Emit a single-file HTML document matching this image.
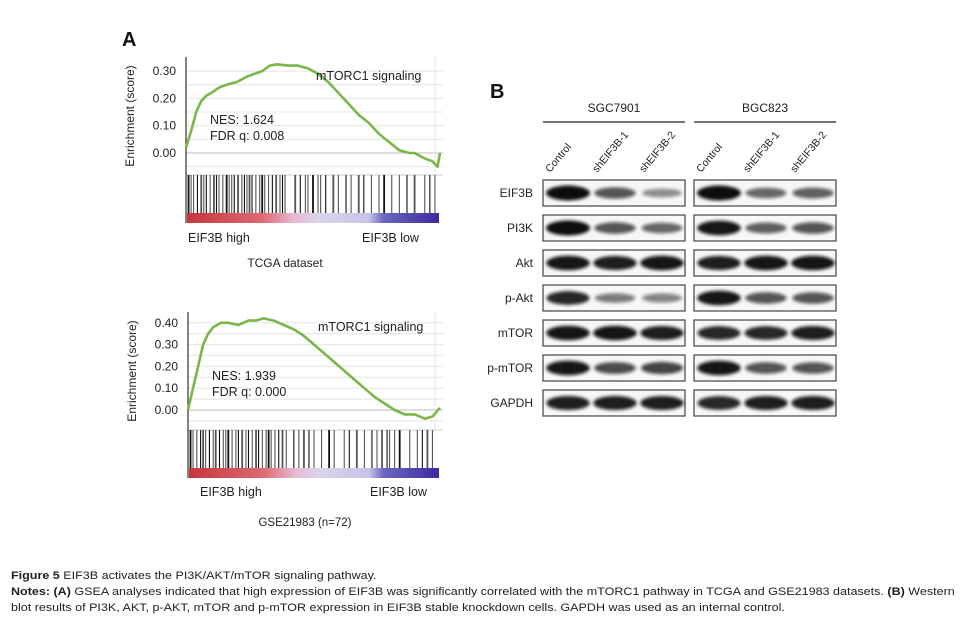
<!DOCTYPE html>
<html><head><meta charset="utf-8">
<style>
body{margin:0;background:#fff;font-family:"Liberation Sans",Arial,sans-serif;}
#wrap{position:relative;width:975px;height:632px;overflow:hidden;}
.cap{position:absolute;left:11px;font-size:11px;color:#222;white-space:nowrap;transform-origin:0 0;transform:scaleX(1.14);}
</style></head>
<body>
<div id="wrap">
<svg id="fig" width="975" height="632" style="position:absolute;left:0;top:0" font-family="Liberation Sans, Arial, sans-serif">
<defs>
<linearGradient id="rank" x1="0" x2="1" y1="0" y2="0">
<stop offset="0" stop-color="#c8363c"/><stop offset="0.3" stop-color="#dc6a74"/>
<stop offset="0.42" stop-color="#e8b8d0"/><stop offset="0.52" stop-color="#d8d4ec"/>
<stop offset="0.72" stop-color="#c6c4e6"/><stop offset="0.78" stop-color="#6a66c0"/>
<stop offset="1" stop-color="#3a2aa0"/></linearGradient>
<filter id="blur" x="-20%" y="-80%" width="140%" height="260%"><feGaussianBlur stdDeviation="1.6"/></filter>
</defs>
</svg>
<div class="cap" style="top:570px"><b>Figure 5</b> EIF3B activates the PI3K/AKT/mTOR signaling pathway.</div>
<div class="cap" style="top:586px"><b>Notes: (A)</b> GSEA analyses indicated that high expression of EIF3B was significantly correlated with the mTORC1 pathway in TCGA and GSE21983 datasets. <b>(B)</b> Western</div>
<div class="cap" style="top:602px">blot results of PI3K, AKT, p-AKT, mTOR and p-mTOR expression in EIF3B stable knockdown cells. GAPDH was used as an internal control.</div>
</div>
<script>
// ---- data ----
const tcgaRank=[0,0.02,0.04,0.06,0.08,0.1,0.13,0.16,0.2,0.24,0.27,0.3,0.33,0.36,0.4,0.44,0.48,0.52,0.56,0.6,0.64,0.68,0.72,0.76,0.8,0.84,0.88,0.9,0.94,0.97,0.99,1.0];
const tcgaES=[0.02,0.08,0.15,0.19,0.21,0.22,0.24,0.25,0.26,0.28,0.29,0.30,0.32,0.325,0.32,0.32,0.31,0.29,0.26,0.22,0.18,0.14,0.11,0.07,0.04,0.01,0.0,0.0,-0.02,-0.03,-0.05,0.0];
const gseRank=[0,0.02,0.04,0.06,0.08,0.1,0.13,0.16,0.2,0.24,0.27,0.3,0.34,0.38,0.42,0.46,0.5,0.54,0.58,0.62,0.66,0.7,0.74,0.78,0.82,0.86,0.9,0.94,0.97,1.0];
const gseES=[0.0,0.1,0.2,0.3,0.35,0.38,0.4,0.4,0.39,0.41,0.41,0.42,0.41,0.39,0.37,0.34,0.30,0.26,0.22,0.18,0.14,0.10,0.06,0.03,0.0,-0.02,-0.02,-0.04,-0.03,0.01];
const hitsA=[0.01,0.02,0.03,0.045,0.06,0.07,0.08,0.095,0.11,0.12,0.13,0.145,0.16,0.17,0.18,0.19,0.205,0.22,0.23,0.24,0.25,0.26,0.275,0.29,0.3,0.31,0.325,0.34,0.355,0.37,0.38,0.39,0.43,0.45,0.47,0.48,0.5,0.52,0.53,0.55,0.58,0.6,0.63,0.65,0.68,0.7,0.73,0.76,0.78,0.81,0.84,0.87,0.9,0.94,0.96,0.98];
const hitsB=[0.01,0.02,0.035,0.05,0.06,0.07,0.085,0.1,0.11,0.125,0.14,0.15,0.16,0.175,0.19,0.2,0.215,0.23,0.24,0.255,0.27,0.28,0.295,0.31,0.32,0.33,0.345,0.36,0.375,0.39,0.42,0.44,0.46,0.48,0.5,0.53,0.56,0.58,0.62,0.64,0.67,0.7,0.73,0.75,0.77,0.79,0.8,0.82,0.84,0.88,0.91,0.93,0.95,0.97];
const proteins=["EIF3B","PI3K","Akt","p-Akt","mTOR","p-mTOR","GAPDH"];
const lanes=["Control","shEIF3B-1","shEIF3B-2"];
const bandSGC=[[1.0,0.6,0.3],[1.0,0.6,0.5],[0.95,0.9,0.95],[0.85,0.4,0.35],[0.95,0.95,0.9],[0.95,0.65,0.7],[0.9,0.9,0.9]];
const bandBGC=[[1.0,0.5,0.55],[0.95,0.55,0.6],[0.9,0.95,0.95],[0.95,0.6,0.6],[0.85,0.85,0.9],[0.95,0.6,0.6],[0.85,0.9,0.9]];

const svg=document.getElementById('fig');const NS='http://www.w3.org/2000/svg';
function el(tag,attrs,parent){const e=document.createElementNS(NS,tag);for(const k in attrs)e.setAttribute(k,attrs[k]);(parent||svg).appendChild(e);return e;}
function txt(x,y,s,size,anchor,name,parent,extra){const t=el('text',Object.assign({x:x,y:y,'font-size':size,'text-anchor':anchor||'start',fill:'#222'},extra||{}),parent);t.textContent=s;


return t;}

txt(122,46,'A',20,'start','panel-a-label',null,{'font-weight':'bold',fill:'#111'});
txt(490,98,'B',20,'start','panel-b-label',null,{'font-weight':'bold',fill:'#111'});

function gsea(cfg){
  const g=el('g',{});
  
  
  const xS=f=>cfg.x0+f*(cfg.x1-cfg.x0);
  const yS=v=>cfg.y0-v/0.1*cfg.step;
  for(let v=cfg.min;v<=cfg.max+1e-9;v+=0.05){
    const gl=el('line',{x1:cfg.x0,x2:cfg.x1+3,y1:yS(v),y2:yS(v),stroke:Math.abs(v)<1e-6?'#bbb':'#e4e4e4','stroke-width':1},g);
    
    
  }
  const vl=el('line',{x1:cfg.x1-5,x2:cfg.x1-5,y1:cfg.top,y2:cfg.barTop,stroke:'#e4e4e4'},g);
  
  
  for(let v=0;v<=cfg.max+1e-9;v+=0.1){
    txt(cfg.x0-10,yS(v)+4,v.toFixed(2),12,'end','y-tick-label',g);
  }
  const yt=txt(0,0,'Enrichment (score)',12,'middle','y-axis-title',g);
  yt.setAttribute('transform',`translate(${cfg.x0-52},${(cfg.top+cfg.barTop)/2}) rotate(-90)`);
  const bc=el('line',{x1:cfg.x0,x2:cfg.x1+3,y1:cfg.barTop,y2:cfg.barTop,stroke:'#ccc'},g);
  
  
  cfg.hits.forEach((h,i)=>{
    const ln=el('line',{x1:xS(h),x2:xS(h),y1:cfg.barTop,y2:cfg.colTop,stroke:i%3==0?'#111':'#555','stroke-width':i%4==0?1.8:1.1},g);
    
    
  });
  const rb=el('rect',{x:cfg.x0+1,y:cfg.colTop,width:cfg.x1-cfg.x0-2,height:cfg.colH,fill:'url(#rank)'},g);
  
  
  const ax=el('line',{x1:cfg.x0,x2:cfg.x0,y1:cfg.top,y2:cfg.colTop+cfg.colH,stroke:'#333','stroke-width':1.2},g);
  
  
  const pts=cfg.rank.map((r,i)=>xS(r).toFixed(1)+','+yS(cfg.es[i]).toFixed(1)).join(' ');
  const pl=el('polyline',{points:pts,fill:'none',stroke:'#7ab648','stroke-width':2.6,'stroke-linejoin':'round'},g);
  
  
  txt(cfg.x0+130,cfg.titleY,'mTORC1  signaling',12.5,'start','gene-set-title',g);
  txt(cfg.x0+24,cfg.nesY,cfg.nes,12.5,'start','nes-value',g);
  txt(cfg.x0+24,cfg.nesY+16,cfg.fdr,12.5,'start','fdr-value',g);
  txt(cfg.x0+2+cfg.hiDx,cfg.lblY,'EIF3B high',12.5,'start','high-label',g);
  txt(cfg.x0+cfg.loDx,cfg.lblY,'EIF3B low',12.5,'start','low-label',g);
  txt(cfg.dsX,cfg.dsY,cfg.ds,cfg.dsSize,'middle','dataset-label',g);
}
gsea({name:'gsea-tcga',x0:186,x1:440,y0:153,step:27.3,min:-0.05,max:0.325,top:57,barTop:175,colTop:213,colH:10,
 rank:tcgaRank,es:tcgaES,hits:hitsA,titleY:80,nesY:124,nes:'NES: 1.624',fdr:'FDR q: 0.008',lblY:242,hiDx:0,loDx:176,
 ds:'TCGA  dataset',dsX:285,dsY:267,dsSize:12});
gsea({name:'gsea-gse21983',x0:188,x1:440,y0:410,step:21.8,min:-0.05,max:0.425,top:312,barTop:430,colTop:468,colH:10,
 rank:gseRank,es:gseES,hits:hitsB,titleY:331,nesY:380,nes:'NES: 1.939',fdr:'FDR q: 0.000',lblY:496,hiDx:10,loDx:182,
 ds:'GSE21983 (n=72)',dsX:305,dsY:526,dsSize:11.5});

const wb=el('g',{});


const groups=[{name:'SGC7901',x:543,data:bandSGC},{name:'BGC823',x:694,data:bandBGC}];
const boxW=142,rowTop=180,rowStep=35,boxH=26;
groups.forEach(gr=>{
  txt(gr.x+boxW/2,112,gr.name,12,'middle','cell-line-label',wb);
  const ul=el('line',{x1:gr.x,x2:gr.x+boxW,y1:122,y2:122,stroke:'#222','stroke-width':1.3},wb);
  
  
  lanes.forEach((ln,j)=>{
    const cx=gr.x+25+j*47;
    const t=txt(0,0,ln,10.5,'start','lane-label',wb);
    t.setAttribute('transform',`translate(${cx-18},${173}) rotate(-50)`);
  });
  proteins.forEach((p,i)=>{
    const y=rowTop+i*rowStep;
    const bx=el('rect',{x:gr.x,y:y,width:boxW,height:boxH,fill:'#f7f7f7',stroke:'#444','stroke-width':1.2},wb);
    
    
    gr.data[i].forEach((v,j)=>{
      const cx=gr.x+25+j*47;
      const b=el('ellipse',{cx:cx,cy:y+boxH/2,rx:19+3*v,ry:3+4.5*v,fill:'#111','fill-opacity':(0.25+0.75*v).toFixed(2),filter:'url(#blur)'},wb);
      
      
    });
  });
});
proteins.forEach((p,i)=>txt(533,rowTop+i*rowStep+17,p,12,'end','protein-label',wb));
</script>
</body></html>
